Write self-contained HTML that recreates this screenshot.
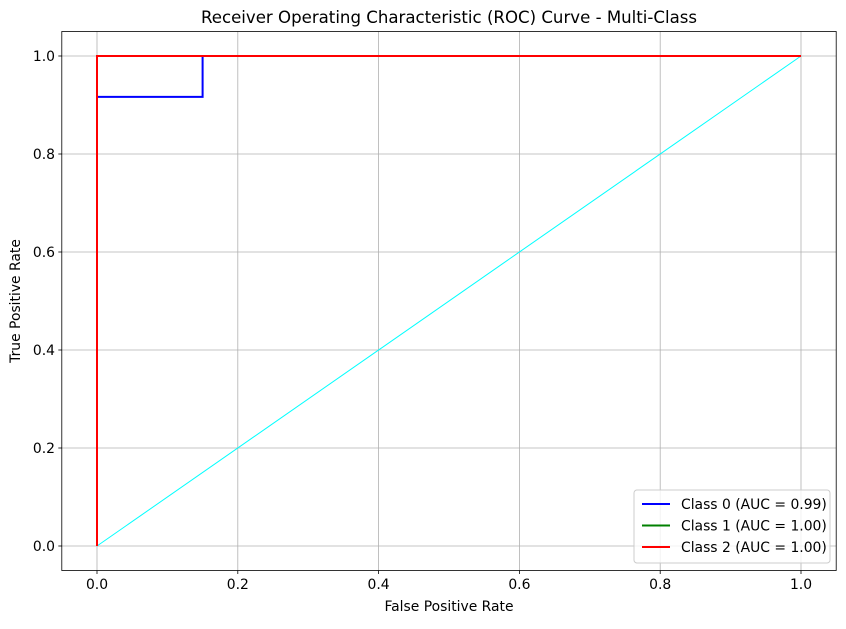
<!DOCTYPE html>
<html><head><meta charset="utf-8"><style>
body{margin:0;background:#fff;font-family:"Liberation Sans","DejaVu Sans",sans-serif}
</style></head><body>
<svg id="chart" width="846" height="624" xmlns="http://www.w3.org/2000/svg" font-family="DejaVu Sans, Liberation Sans, sans-serif">
<rect width="846" height="624" fill="#fff"/>
<g id="grid"></g>
<g id="series"></g>
<rect x="61.8" y="31.5" width="774.4" height="539" fill="none" stroke="#000" stroke-width="0.8"/>
<g id="ticks"></g>
<text x="449" y="23" font-size="16.6" text-anchor="middle">Receiver Operating Characteristic (ROC) Curve - Multi-Class</text>
<text x="449" y="611" font-size="13.9" text-anchor="middle">False Positive Rate</text>
<text transform="translate(20,301) rotate(-90)" font-size="13.9" text-anchor="middle">True Positive Rate</text>
<g>
<rect x="634" y="490" width="196" height="73" rx="3" fill="#fff" fill-opacity="0.8" stroke="#ccc"/>
<g id="legend-items"></g>
</g>
</svg>
<script>
const xTicks=[0,0.2,0.4,0.6,0.8,1.0];
const yTicks=[0,0.2,0.4,0.6,0.8,1.0];
const seriesNames=["Class 0 (AUC = 0.99)","Class 1 (AUC = 1.00)","Class 2 (AUC = 1.00)"];
const seriesColors=["blue","green","red"];
const fpr0=[0,0,0.15,0.15,1];
const tpr0=[0,0.9167,0.9167,1,1];
const fpr1=[0,0,1];
const tpr1=[0,1,1];
const fpr2=[0,0,1];
const tpr2=[0,1,1];
const diagX=[0,1];
const diagY=[0,1];
const X=v=>97+v*704, Y=v=>546-v*490;
const NS="http://www.w3.org/2000/svg";
function mk(t,a,p){const e=document.createElementNS(NS,t);for(const k in a)e.setAttribute(k,a[k]);p.appendChild(e);return e;}
const grid=document.getElementById('grid'),ticks=document.getElementById('ticks'),ser=document.getElementById('series');
xTicks.forEach(t=>{
 const l=mk('line',{x1:X(t),x2:X(t),y1:31.5,y2:570.5,stroke:'#b0b0b0','stroke-width':0.8},grid);
 
 
 mk('line',{x1:X(t),x2:X(t),y1:570.5,y2:574,stroke:'#000','stroke-width':0.8},ticks);
 const s=mk('text',{x:X(t),y:589,'font-size':13.9,'text-anchor':'middle'},ticks);s.textContent=t.toFixed(1);
 
 
});
yTicks.forEach(t=>{
 const l=mk('line',{x1:61.8,x2:836.2,y1:Y(t),y2:Y(t),stroke:'#b0b0b0','stroke-width':0.8},grid);
 
 
 mk('line',{x1:58.3,x2:61.8,y1:Y(t),y2:Y(t),stroke:'#000','stroke-width':0.8},ticks);
 const s=mk('text',{x:55,y:Y(t)+5,'font-size':13.9,'text-anchor':'end'},ticks);s.textContent=t.toFixed(1);
 
 
});
function line(xs,ys,c,w,name){
 const p=mk('polyline',{points:xs.map((x,i)=>X(x)+','+Y(ys[i])).join(' '),fill:'none',stroke:c,'stroke-width':w},ser);
 
 
}
line(diagX,diagY,'cyan',1,'chance-diagonal');
line(fpr0,tpr0,seriesColors[0],2,'class-0-curve');
line(fpr1,tpr1,seriesColors[1],2,'class-1-curve');
line(fpr2,tpr2,seriesColors[2],2,'class-2-curve');
const li=document.getElementById('legend-items');
seriesNames.forEach((n,i)=>{
 const y=504+i*21.5;
 mk('line',{x1:642,x2:670,y1:y,y2:y,stroke:seriesColors[i],'stroke-width':2},li);
 const t=mk('text',{x:681,y:y+5,'font-size':13.9},li);t.textContent=n;
 
 
});
</script>
</body></html>
